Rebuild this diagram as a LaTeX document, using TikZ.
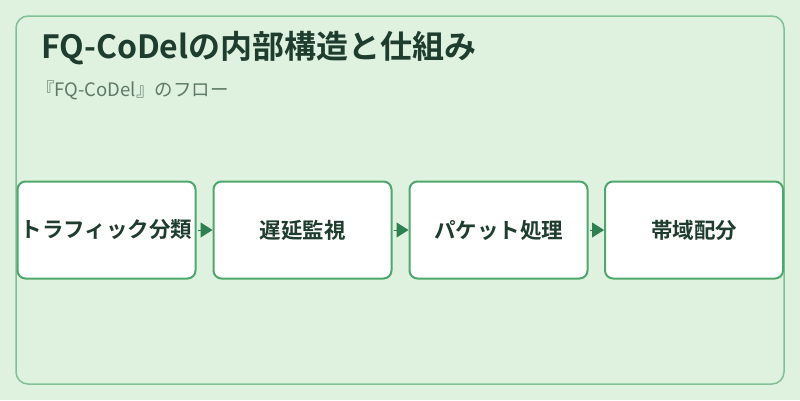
\documentclass[tikz,border=0pt]{standalone}
\usepackage{fontspec}
\setmainfont{Noto Sans CJK JP}
\newfontfamily\jpbold{Noto Sans CJK JP Bold}
\usetikzlibrary{arrows.meta}
\definecolor{bgc}{HTML}{DFF1DF}
\definecolor{frame}{HTML}{80C095}
\definecolor{boxline}{HTML}{4EA86B}
\definecolor{arrowc}{HTML}{2E8050}
\definecolor{titlec}{HTML}{1F3D2F}
\definecolor{subc}{HTML}{5F7A68}
\tikzset{
  stepbox/.style={draw=boxline, line width=2pt, fill=white, rounded corners=8pt,
    minimum width=178pt, minimum height=97pt, inner sep=0pt, text=titlec,
    font=\jpbold\fontsize{21.5pt}{24pt}\selectfont},
  flow/.style={draw=arrowc, fill=arrowc, line width=1pt, -{Triangle[length=12pt,width=15pt]}, shorten <=1pt}
}
\begin{document}
\begin{tikzpicture}[x=1pt,y=-1pt]
\useasboundingbox (0,0) rectangle (800,400);
\fill[bgc] (0,0) rectangle (800,400);
\draw[frame, line width=1.5pt, rounded corners=12pt, fill=bgc] (16,16) rectangle (784,384);
\node[anchor=west, text=titlec, font=\jpbold\fontsize{32pt}{36pt}\selectfont, inner sep=0pt] (title) at (41,48) {FQ-CoDelの内部構造と仕組み};
\node[anchor=west, text=subc, font=\fontsize{18.5pt}{20pt}\selectfont, inner sep=0pt] (sub) at (36,90) {『FQ-CoDel』のフロー};
\node[stepbox] (b1) at (106.5,230) {トラフィック分類};
\node[stepbox] (b2) at (302.5,230) {遅延監視};
\node[stepbox] (b3) at (498.5,230) {パケット処理};
\node[stepbox] (b4) at (694,230) {帯域配分};
\draw[flow] (b1) -- (b2);
\draw[flow] (b2) -- (b3);
\draw[flow] (b3) -- (b4);
\end{tikzpicture}
\end{document}
